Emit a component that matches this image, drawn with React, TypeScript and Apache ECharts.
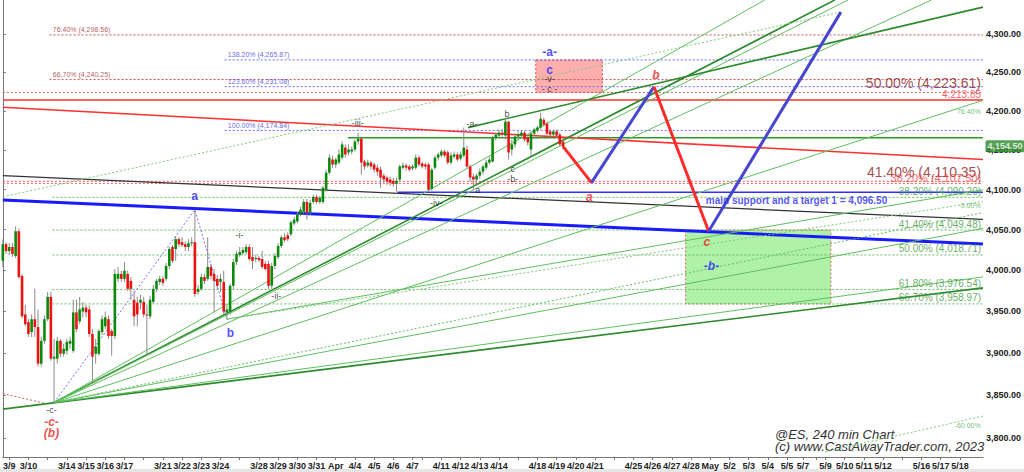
import React, { useEffect, useRef } from "react";
import * as echarts from "echarts";

const X_MAX = 306.2;
const P_MIN = 3777.8;
const P_MAX = 4344.8;
const PRICE_TICKS = [3800, 3850, 3900, 3950, 4000, 4050, 4100, 4150, 4200, 4250, 4300];

const DAY_TICKS: [string, number][] = [
  ["3/9", 2], ["3/10", 8], ["", 14], ["3/14", 20], ["3/15", 26], ["3/16", 32], ["3/17", 38], ["", 44],
  ["3/21", 50], ["3/22", 56], ["3/23", 62], ["3/24", 68], ["", 74], ["3/28", 80], ["3/29", 86],
  ["3/30", 92], ["3/31", 98], ["Apr", 104], ["4/4", 110], ["4/5", 116], ["4/6", 122], ["4/7", 128],
  ["", 131], ["4/11", 137], ["4/12", 143], ["4/13", 149], ["4/14", 155], ["", 161], ["4/18", 167],
  ["4/19", 173], ["4/20", 179], ["4/21", 185], ["", 191], ["4/25", 197], ["4/26", 203], ["4/27", 209],
  ["4/28", 215], ["May", 221], ["5/2", 227], ["5/3", 233], ["5/4", 239], ["5/5", 245], ["5/7", 250],
  ["", 254], ["5/9", 257], ["5/10", 263], ["5/11", 269], ["5/12", 275], ["", 281], ["5/16", 287],
  ["5/17", 293], ["5/18", 299],
];

// [open, close, low, high]
const CANDLES: number[][] = [
  [4011.5, 4032, 4004, 4038], [4032, 4023.5, 4020, 4034.5], [4023.5, 4028.5, 4018.75, 4033.25],
  [4028.5, 4020, 4016.25, 4033.25], [4017.5, 4048, 4015, 4054], [4048, 3991.75, 3989.5, 4051.5],
  [3993, 3944, 3941.5, 3995.5], [3946.25, 3934.5, 3932, 3958], [3937, 3922.75, 3919.25, 3940.5],
  [3925, 3940.5, 3919.25, 3946.25], [3940.5, 3931, 3919.25, 3977.25], [3931, 3887.25, 3883.75, 3952.25],
  [3887.25, 3914.5, 3883.75, 3919.25], [3914.5, 3940.5, 3911, 3945], [3940.5, 3967.5, 3938, 3973.5],
  [3967.5, 3893.25, 3890.75, 3973.5], [3893.25, 3895.5, 3841.25, 3916.75], [3893.25, 3914.5, 3887.25, 3919.25],
  [3914.5, 3899, 3895.5, 3916.75], [3899, 3905, 3895.5, 3911], [3902.5, 3913.25, 3898, 3916.75],
  [3911, 3914.5, 3905, 3919.25], [3902.5, 3948.75, 3900.25, 3964], [3948.75, 3928.5, 3925, 3964],
  [3938, 3952.25, 3934.5, 3967.5], [3949.75, 3954.5, 3942.75, 3961.5], [3954.5, 3948.75, 3942.75, 3958],
  [3952.25, 3922.75, 3919.25, 3957], [3922.75, 3895.5, 3866, 3928.5], [3899, 3907.5, 3887.25, 3916.75],
  [3899, 3926.25, 3896.75, 3928.5], [3925, 3940.5, 3921.5, 3945], [3932, 3942.75, 3928.5, 3949.75],
  [3940.5, 3920.25, 3916.75, 3945], [3926.25, 3920.25, 3896.75, 3928.5], [3920.25, 3995.5, 3916.75, 4001.5],
  [3989.5, 3995.5, 3985.75, 4004], [3995.5, 3989.5, 3985.75, 3999.25], [3989.5, 3999.25, 3985.75, 4010],
  [3995.5, 3977.25, 3974.75, 3999.25], [3987, 3977.25, 3964, 3991.75], [3964, 3944, 3932, 3974.75],
  [3960.5, 3946.25, 3932, 3967.5], [3960.5, 3964, 3952.25, 3970], [3961.5, 3946.25, 3942.75, 3967.5],
  [3946.25, 3945, 3896.75, 3958], [3944, 3964, 3940.5, 3968.75], [3961.5, 3977.25, 3959.25, 3982],
  [3977.25, 3987, 3973.5, 3989.5], [3985.75, 3989.5, 3982, 3993], [3989.5, 3984.5, 3981, 3993],
  [3989.5, 4005.25, 3987, 4009], [4005.25, 4026, 4001.5, 4028.5], [4028.5, 4011.5, 4009, 4031],
  [4026, 4038.25, 4011.5, 4042], [4038.25, 4032, 4028.5, 4040.5], [4034.5, 4031, 4028.5, 4040.5],
  [4032, 4028.5, 4023.5, 4035.75], [4028.5, 4033.25, 4023.5, 4038.25], [4033.25, 4034.5, 4029.75, 4040.5],
  [4034.5, 3971, 3967.5, 4074.75], [3973.5, 3977.25, 3970, 3982], [3977.25, 3991.75, 3974.75, 3995.5],
  [3991.75, 3987, 3983.25, 3995.5], [3989.5, 4004, 3987, 4040.5], [4004, 3993, 3989.5, 4007.75],
  [3995.5, 3987, 3948.75, 4001.5], [3989.5, 3981, 3977.25, 3994.25], [3985.75, 3989.5, 3973.5, 3995.5],
  [3985.75, 3949.75, 3946.25, 3999.25], [3948.75, 3952.25, 3940.5, 3957], [3949.75, 3981, 3946.25, 3983.25],
  [3981, 4010, 3977.25, 4013.75], [4010, 4020, 4006.5, 4023.5], [4018.75, 4022.25, 4016.25, 4028.5],
  [4021, 4024.75, 4018.75, 4028.5], [4022.25, 4028.5, 4020, 4032], [4028.5, 4013.75, 4011.5, 4032],
  [4016.25, 4011.5, 4001.5, 4028.5], [4013.75, 4015, 4010, 4018.75], [4015, 4012.5, 4010, 4017.5],
  [4013.75, 4004, 4001.5, 4023.5], [4007.75, 4001.5, 3999.25, 4011.5], [4007.75, 3981, 3977.25, 4011.5],
  [3981, 4005.25, 3977.25, 4009], [4005.25, 4017.5, 4001.5, 4021], [4016.25, 4029.75, 4013.75, 4033.25],
  [4029.75, 4040.5, 4027.25, 4043], [4040.5, 4037, 4034.5, 4045.5], [4043, 4038.25, 4035.75, 4046.75],
  [4044.25, 4059, 4042, 4061.5], [4057.75, 4062.5, 4055.25, 4066.25], [4060.25, 4068.75, 4057.75, 4072.25],
  [4068.75, 4074.75, 4066.25, 4078.5], [4072.25, 4084.5, 4068.75, 4088.25], [4084.5, 4071, 4062.5, 4088.25],
  [4071, 4083.25, 4068.75, 4087], [4084.5, 4090.75, 4082, 4093.5], [4090.75, 4084.5, 4082, 4093.5],
  [4084.5, 4089.5, 4082, 4092], [4084.5, 4102.25, 4082, 4104.75], [4099.75, 4121.25, 4097.25, 4125],
  [4121.25, 4140.25, 4118.75, 4144.25], [4137.75, 4131.5, 4127.5, 4143], [4131.5, 4137.75, 4127.5, 4140.25],
  [4134, 4144.25, 4131.5, 4150.5], [4140.25, 4157, 4137.75, 4160.75], [4153, 4144.25, 4140.25, 4157],
  [4146.75, 4150.5, 4143, 4157], [4148, 4150.5, 4144.25, 4154.25], [4150.5, 4160.75, 4148, 4163.25],
  [4160.75, 4164.5, 4157, 4172], [4164.5, 4134, 4118.75, 4167], [4135.25, 4129, 4125, 4137.75],
  [4130.25, 4134, 4127.5, 4137.75], [4134, 4129, 4125, 4136.5], [4131.5, 4125, 4121.25, 4134],
  [4127.5, 4122.5, 4117.5, 4131.5], [4125, 4115, 4102.25, 4129], [4117.5, 4112.5, 4108.5, 4120],
  [4115, 4110, 4106, 4117.5], [4112.5, 4108.5, 4104.75, 4116.25], [4111, 4107.25, 4103.5, 4115],
  [4107.25, 4111, 4097.25, 4115], [4112.5, 4129, 4110, 4131.5], [4127.5, 4130.25, 4125, 4134],
  [4130.25, 4127.5, 4123.75, 4132.75], [4129, 4125, 4122.5, 4131.5], [4126.5, 4129, 4123.75, 4131.5],
  [4127.5, 4140.25, 4125, 4144.25], [4140.25, 4131.5, 4129, 4143], [4132.75, 4129, 4126.5, 4135.25],
  [4131.5, 4129, 4125, 4134], [4131.5, 4099.75, 4097.25, 4134], [4101, 4125, 4098.5, 4127.5],
  [4127.5, 4140.25, 4125, 4143], [4140.25, 4144.25, 4136.5, 4146.75], [4143, 4148, 4140.25, 4150.5],
  [4148, 4143, 4140.25, 4150.5], [4146.75, 4134, 4131.5, 4149.25], [4134, 4143, 4131.5, 4146.75],
  [4141.5, 4144.25, 4139, 4148], [4144.25, 4137.75, 4135.25, 4146.75], [4139, 4144.25, 4136.5, 4148],
  [4143, 4153, 4140.25, 4178.5], [4150.5, 4129, 4126.5, 4155.5], [4129, 4115, 4110, 4131.5],
  [4116.25, 4112.5, 4099.75, 4120], [4112.5, 4117.5, 4104.75, 4120], [4117.5, 4122.5, 4113.75, 4126.5],
  [4122.5, 4129, 4118.75, 4131.5], [4127.5, 4134, 4125, 4137.75], [4134, 4137.75, 4131.5, 4141.5],
  [4135.25, 4165.75, 4134, 4168.25], [4165.75, 4169.5, 4162, 4172], [4168.25, 4172, 4165.75, 4176],
  [4172, 4169.5, 4167, 4176], [4168.25, 4186, 4163.25, 4188.5], [4186, 4146.75, 4137.75, 4187.25],
  [4150.5, 4157, 4143, 4163.25], [4157, 4167, 4153, 4170.75], [4167, 4169.5, 4164.5, 4173.5],
  [4168.25, 4172, 4165.75, 4174.5], [4172, 4163.25, 4160.75, 4174.5], [4165.75, 4159.5, 4155.5, 4169.5],
  [4150.5, 4170.75, 4141.5, 4173.5], [4170.75, 4176, 4168.25, 4178.5], [4174.75, 4178.5, 4172, 4181],
  [4178.5, 4189.75, 4176, 4197.5], [4188.5, 4182.25, 4179.75, 4191], [4183.5, 4170.75, 4168.25, 4186],
  [4173.5, 4169.5, 4165.75, 4176], [4169.5, 4173.5, 4167, 4176], [4173.5, 4168.25, 4165.75, 4176],
  [4169.5, 4157, 4154.25, 4172], [4160.75, 4154.5, 4150.5, 4163.25],
];

const LAST_PRICE = 4154.5;
const RESIST_PRICE = 4213.85;
const SUPPORT_PRICE = 4096.5;
const FLAT_GREEN_PRICE = 4165.6;

const RED_FIB: [string, number][] = [["76.40%", 4298.56], ["66.70%", 4240.25]];
const BLUE_FIB: [string, number][] = [["138.20%", 4265.87], ["123.60%", 4231.08], ["100.00%", 4174.84]];
const GREEN_FIB: [string, number][] = [["38.20%", 4090.2], ["41.40%", 4049.48], ["50.00%", 4018.71], ["61.80%", 3976.54], ["66.70%", 3958.97]];
const RED_BIG: [string, number][] = [["50.00%", 4223.61], ["41.40%", 4110.35]];
const RED_SMALL: [string, number][] = [["38.20%", 4107.5]];

const RED_TREND = [[0, 4204.4], [X_MAX, 4137.8]];
const BLACK_TREND = [[0, 4117.5], [X_MAX, 4062.6]];
const BLUE_TREND = [[0, 4087], [X_MAX, 4032.1]];
const RED_DOT_TREND = [[0, 3851.9], [13.4, 3840.1]];
const WAVE_PATH = [[16, 3841.25], [60, 4074.75], [70, 3940.5]];
const PROJ_RED_1 = [[175, 4154.5], [183.9, 4108.6]];
const PROJ_BLUE_1 = [[183.9, 4108.6], [203.4, 4231]];
const PROJ_RED_2 = [[203.4, 4231], [220.5, 4048]];
const PROJ_BLUE_2 = [[220.5, 4048], [261.8, 4328.7]];

const PIVOT = [16, 3841.25];
const BASE_LINE = [[0, 3833.5], [X_MAX, 3978.4]];
const FAN_THICK = [[259.9, 4344.8]];
const FAN_THIN = [[X_MAX, 3991.8], [X_MAX, 4051.6], [X_MAX, 4213.5], [290, 4344.6], [264, 4344.8], [238, 4344.8]];
const FAN_DOTTED = [[X_MAX, 4071.1]];
const B_LOW = [70, 3940.5];
const B_FAN_THIN = [[X_MAX, 4099.7]];
const B_FAN_DOTTED = [[X_MAX, 4085]];
const UPPER_CHANNEL = [[145.3, 4178.4], [X_MAX, 4335.3]];
const DOTTED_GREEN_1 = [[0, 4090.8], [261.8, 4328.7]];
const DOTTED_GREEN_2 = [[256.8, 3783.6], [X_MAX, 3825.4]];

const PINK_BOX = [[166.5, 4265.87], [187.3, 4223.61]];
const GREEN_BOX = [[213.3, 4049.48], [258.7, 3958.97]];

const BLUE_WAVES: [string, number, number][] = [["a", 59.9, 4092], ["b", 71.1, 3924], ["-a-", 170.8, 4276.3], ["c", 170.8, 4252.7]];
const BLACK_WAVES: [string, number, number][] = [
  ["-i-", 73.9, 4043.1], ["-ii-", 85.4, 3968.7], ["-iii-", 110.9, 4184.8], ["-a-", 146.6, 4183.5],
  ["b", 157.5, 4196.2], ["c", 159.3, 4126.4], ["-b-", 159.3, 4113.7], ["a", 148.4, 4099.7],
  ["-iv-", 135.4, 4083.3], ["-c-", 15.2, 3832.4], ["-v-", 170.8, 4240.9], ["- c -", 170.8, 4227.8],
];
const RED_WAVES: [string, number, number][] = [["-c-", 15.2, 3818.4], ["(b)", 15.2, 3805.6], ["a", 183.2, 4090.8], ["b", 204, 4246.4], ["c", 219.9, 4034.5]];
const BLUE_ITALIC: [string, number, number][] = [["-b-", 221.4, 4005.3]];
const FAN_PCT: [string, number, number][] = [["76.40%", 305.5, 4199], ["0.00%", 305.5, 4080], ["-60.00%", 305.5, 3814]];

const L = Math.log;
const fmt = (p: number) => p.toLocaleString("en-US", { minimumFractionDigits: 2, maximumFractionDigits: 2 });

function seg(points: number[][], color: string, width: number, type: any = "solid", z = 3) {
  return {
    type: "line", data: points.map(([b, p]) => [b, L(p)]), symbol: "none", silent: true,
    lineStyle: { color, width, type }, z, animation: false,
  };
}

function labelItem(bar: number, price: number, text: string, style: any) {
  return { value: [bar, L(price)], label: { show: true, formatter: text, position: "inside", ...style } };
}

export default function App() {
  const ref = useRef<HTMLDivElement>(null);
  useEffect(() => {
    if (!ref.current) return;
    const chart = echarts.init(ref.current, null, { renderer: "svg" });
    const labelMap: Record<string, string> = {};
    DAY_TICKS.forEach(([t, b]) => { if (t) labelMap[String(b)] = t; });

    const series: any[] = [];
    const GREEN = "#2e8b2e";
    const LGREEN = "#5fbf5f";
    RED_FIB.forEach(([, p]) => series.push(seg([[14.6, p], [X_MAX, p]], "#c85050", 1, [2, 2])));
    BLUE_FIB.forEach(([, p]) => series.push(seg([[69.3, p], [X_MAX, p]], "#6a6aff", 1, [2, 2])));
    GREEN_FIB.forEach(([, p]) => series.push(seg([[15.5, p], [X_MAX, p]], "#66bb66", 1, [2, 2])));
    RED_BIG.forEach(([, p]) => series.push(seg([[0, p], [X_MAX, p]], "#d06060", 1, [2, 2])));
    RED_SMALL.forEach(([, p]) => series.push(seg([[0, p], [X_MAX, p]], "#ff6060", 1, [2, 2])));
    series.push(seg([[0, RESIST_PRICE], [X_MAX, RESIST_PRICE]], "#ff3030", 1.5));
    series.push(seg([[107.8, FLAT_GREEN_PRICE], [X_MAX, FLAT_GREEN_PRICE]], "#2a9a2a", 1.5));
    series.push(seg([[123.3, SUPPORT_PRICE], [X_MAX, SUPPORT_PRICE]], "#3030ff", 1.5));
    series.push(seg(RED_TREND, "#ff3030", 1.5));
    series.push(seg(BLACK_TREND, "#333333", 1.3));
    series.push(seg(BLUE_TREND, "#1a1aff", 3));
    series.push(seg(RED_DOT_TREND, "#d06060", 1, [2, 2]));
    series.push(seg(WAVE_PATH, "#7070ff", 1, [2, 2]));
    series.push(seg(BASE_LINE, GREEN, 1.6));
    FAN_THICK.forEach((e) => series.push(seg([PIVOT, e], GREEN, 1.6)));
    FAN_THIN.forEach((e) => series.push(seg([PIVOT, e], LGREEN, 1)));
    FAN_DOTTED.forEach((e) => series.push(seg([PIVOT, e], LGREEN, 1, [2, 2])));
    B_FAN_THIN.forEach((e) => series.push(seg([B_LOW, e], LGREEN, 1)));
    B_FAN_DOTTED.forEach((e) => series.push(seg([B_LOW, e], "#7acc7a", 1, [2, 2])));
    series.push(seg(UPPER_CHANNEL, GREEN, 1.6));
    series.push(seg(DOTTED_GREEN_1, "#7acc7a", 1, [2, 2]));
    series.push(seg(DOTTED_GREEN_2, "#7acc7a", 1, [2, 2]));

    series.push({
      type: "line", data: [], silent: true, z: 1,
      markArea: {
        silent: true,
        data: [
          [{ coord: [PINK_BOX[0][0], L(PINK_BOX[0][1])], itemStyle: { color: "rgba(255,120,120,0.6)", borderColor: "#e04040", borderWidth: 1, borderType: [2, 2] } },
           { coord: [PINK_BOX[1][0], L(PINK_BOX[1][1])] }],
          [{ coord: [GREEN_BOX[0][0], L(GREEN_BOX[0][1])], itemStyle: { color: "rgba(140,235,130,0.7)", borderColor: "#e06060", borderWidth: 1, borderType: [2, 2] } },
           { coord: [GREEN_BOX[1][0], L(GREEN_BOX[1][1])] }],
        ],
      },
    });

    series.push({
      type: "custom", z: 5, silent: true,
      data: CANDLES.map((c, i) => [i, L(c[0]), L(c[1]), L(c[2]), L(c[3])]),
      encode: { x: 0, y: [1, 2, 3, 4] },
      renderItem: (params: any, api: any) => {
        const x = api.value(0);
        const o = api.value(1), c = api.value(2), lo = api.value(3), hi = api.value(4);
        const pO = api.coord([x, o]), pC = api.coord([x, c]), pL = api.coord([x, lo]), pH = api.coord([x, hi]);
        const w = 2.6;
        const top = Math.min(pO[1], pC[1]);
        const h = Math.max(1, Math.abs(pO[1] - pC[1]));
        return {
          type: "group",
          children: [
            { type: "line", shape: { x1: pH[0], y1: pH[1], x2: pL[0], y2: pL[1] }, style: { stroke: "#8a8a8a", lineWidth: 1 } },
            { type: "rect", shape: { x: pO[0] - w / 2, y: top, width: w, height: h }, style: { fill: c >= o ? "#0a8a0a" : "#ee1111" } },
          ],
        };
      },
    });

    series.push(seg(PROJ_RED_1, "#ff2a2a", 3, "solid", 6));
    series.push(seg(PROJ_BLUE_1, "#4646d2", 3, "solid", 6));
    series.push(seg(PROJ_RED_2, "#ff2a2a", 3, "solid", 6));
    series.push(seg(PROJ_BLUE_2, "#4646d2", 3, "solid", 6));

    const items: any[] = [];
    const ff = "Arial, 'Liberation Sans', sans-serif";
    RED_FIB.forEach(([t, p]) => items.push(labelItem(15.6, p, `${t} (${fmt(p)})`, { color: "#a03030", fontSize: 7, fontFamily: ff, align: "left", offset: [0, -5] })));
    BLUE_FIB.forEach(([t, p]) => items.push(labelItem(70.3, p, `${t} (${fmt(p)})`, { color: "#3a3add", fontSize: 7, fontFamily: ff, align: "left", offset: [0, -5] })));
    GREEN_FIB.forEach(([t, p]) => items.push(labelItem(305.6, p, `${t} (${fmt(p)})`, { color: "#3d9a3d", fontSize: 10, fontFamily: ff, align: "right", offset: [0, -6] })));
    RED_BIG.forEach(([t, p]) => items.push(labelItem(305.6, p, `${t} (${fmt(p)})`, { color: "#8b2020", fontSize: 14, fontFamily: ff, align: "right", offset: [0, -9] })));
    RED_SMALL.forEach(([t, p]) => items.push(labelItem(305.6, p, `${t} (${fmt(p)})`, { color: "#ff4040", fontSize: 11, fontFamily: ff, align: "right", offset: [0, -6] })));
    items.push(labelItem(305.6, RESIST_PRICE, fmt(RESIST_PRICE), { color: "#ff3030", fontSize: 10, fontFamily: ff, align: "right", offset: [0, -6] }));
    items.push(labelItem(219.6, SUPPORT_PRICE, `main support and a target 1 = ${fmt(SUPPORT_PRICE)}`, { color: "#2a2aee", fontSize: 10, fontWeight: "bold", fontFamily: ff, align: "left", offset: [0, 8] }));
    BLUE_WAVES.forEach(([t, b, p]) => items.push(labelItem(b, p, t, { color: "#2222ff", fontSize: 12, fontWeight: "bold", fontFamily: ff, align: "center" })));
    BLACK_WAVES.forEach(([t, b, p]) => items.push(labelItem(b, p, t, { color: "#111", fontSize: 9, fontFamily: ff, align: "center" })));
    RED_WAVES.forEach(([t, b, p]) => items.push(labelItem(b, p, t, { color: "#ee2222", fontSize: 12, fontStyle: "italic", fontWeight: "bold", fontFamily: ff, align: "center" })));
    BLUE_ITALIC.forEach(([t, b, p]) => items.push(labelItem(b, p, t, { color: "#2222ff", fontSize: 12, fontStyle: "italic", fontWeight: "bold", fontFamily: ff, align: "center" })));
    FAN_PCT.forEach(([t, b, p]) => items.push(labelItem(b, p, t, { color: "#4aaa4a", fontSize: 7, fontFamily: ff, align: "right" })));
    series.push({
      type: "scatter", data: items, symbolSize: 1, itemStyle: { color: "rgba(0,0,0,0)" }, silent: true, clip: false, z: 10,
    });
    series.push({
      type: "scatter", symbolSize: 1, itemStyle: { color: "rgba(0,0,0,0)" }, silent: true, clip: false, z: 11,
      data: [{ value: [X_MAX, L(LAST_PRICE)], label: { show: true, position: "right", distance: 2, formatter: fmt(LAST_PRICE), color: "#fff", fontSize: 9, fontWeight: "bold", fontFamily: ff, backgroundColor: "#2a8a2a", padding: [2, 2, 1, 2], borderRadius: 2 } }],
    });

    chart.setOption({
      animation: false,
      backgroundColor: "#ffffff",
      grid: { left: 0, right: 38, top: 0, bottom: 15 },
      xAxis: {
        type: "value", min: 0, max: X_MAX,
        axisLine: { show: true, lineStyle: { color: "#777" } },
        axisTick: { show: true, length: 3, lineStyle: { color: "#777" }, customValues: DAY_TICKS.map((d) => d[1]) },
        axisLabel: {
          customValues: DAY_TICKS.filter((d) => d[0]).map((d) => d[1]),
          formatter: (v: number) => labelMap[String(v)] ?? "",
          fontSize: 9, fontWeight: "bold", color: "#222", margin: 4, fontFamily: ff, hideOverlap: false,
        },
        splitLine: { show: false },
      },
      yAxis: {
        type: "value", position: "right", min: L(P_MIN), max: L(P_MAX),
        axisLine: { show: true, lineStyle: { color: "#777" } },
        axisTick: { show: true, length: 3, lineStyle: { color: "#777" }, customValues: PRICE_TICKS.map(L) },
        axisLabel: {
          customValues: PRICE_TICKS.map(L),
          formatter: (v: number) => fmt(Math.round(Math.exp(v))),
          fontSize: 9, fontWeight: "bold", color: "#222", margin: 3, fontFamily: ff,
        },
        splitLine: { show: false },
      },
      graphic: [
        { type: "text", left: 775, top: 428, style: { text: "@ES, 240 min Chart", font: "italic 13px Arial, 'Liberation Sans', sans-serif", fill: "#333" } },
        { type: "text", left: 775, top: 440, style: { text: "(c) www.CastAwayTrader.com, 2023", font: "italic 13px Arial, 'Liberation Sans', sans-serif", fill: "#333" } },
        { type: "rect", left: 0, top: 469, shape: { width: 1024, height: 3 }, style: { fill: "#e6e6e6" } },
      ],
      series,
    });
    return () => chart.dispose();
  }, []);
  return <div ref={ref} style={{ position: "fixed", left: 0, top: 0, width: 1024, height: 472 }} />;
}
